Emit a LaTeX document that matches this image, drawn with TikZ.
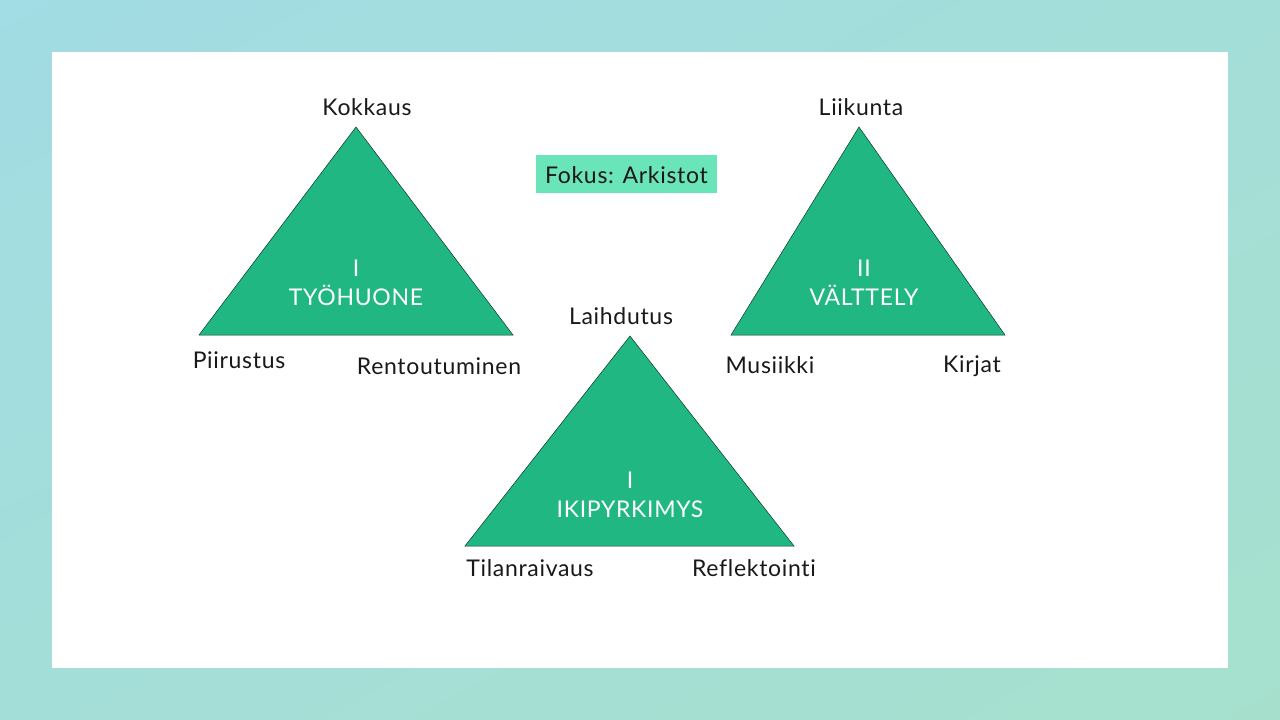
\documentclass[tikz,border=0pt]{standalone}
\usepackage{fontspec}
\setmainfont{Lato}[Ligatures=NoCommon,LetterSpace=3]
\usetikzlibrary{shadings}
\begin{document}
\begin{tikzpicture}[x=1pt,y=-1pt,
  tri/.style={fill=triGreen,draw=black!70!triGreen,line width=0.5pt},
  lbl/.style={font=\fontsize{23}{26}\selectfont,text=black!90,inner sep=0pt},
  inlbl/.style={font=\fontsize{23}{29}\selectfont,text=white,align=center,inner sep=0pt}]
\definecolor{triGreen}{RGB}{33,183,131}
\definecolor{bgA}{RGB}{162,220,228}
\definecolor{bgB}{RGB}{166,224,205}
\definecolor{bgC}{RGB}{164,222,216}
\definecolor{focusGreen}{RGB}{106,228,185}
\useasboundingbox (0,0) rectangle (1280,720);
\shade[upper left=bgA, lower right=bgB, upper right=bgC, lower left=bgC] (0,0) rectangle (1280,720);
\fill[white] (52,52) rectangle (1228,668);
% triangle 1
\coordinate (t1a) at (356,127);
\coordinate (t1b) at (199,335);
\coordinate (t1c) at (513,335);
\draw[tri] (t1a) -- (t1b) -- (t1c) -- cycle;
\node[inlbl] (t1t) at (356,283) {I\\TYÖHUONE};
\node[lbl] (kok) at (367,107) {Kokkaus};
\node[lbl] (pii) at (239,360) {Piirustus};
\node[lbl] (ren) at (439,366) {Rentoutuminen};
% triangle 2
\coordinate (t2a) at (859,127);
\coordinate (t2b) at (731,335);
\coordinate (t2c) at (1005,335);
\draw[tri] (t2a) -- (t2b) -- (t2c) -- cycle;
\node[inlbl] (t2t) at (864,283) {II\\VÄLTTELY};
\node[lbl] (lii) at (861,107) {Liikunta};
\node[lbl] (mus) at (770,365) {Musiikki};
\node[lbl] (kir) at (972,366) {Kirjat};
% triangle 3
\coordinate (t3a) at (630,336);
\coordinate (t3b) at (465,546);
\coordinate (t3c) at (794,546);
\draw[tri] (t3a) -- (t3b) -- (t3c) -- cycle;
\node[inlbl] (t3t) at (630,495) {I\\IKIPYRKIMYS};
\node[lbl] (lai) at (621,316) {Laihdutus};
\node[lbl] (til) at (530,568) {Tilanraivaus};
\node[lbl] (ref) at (754,568) {Reflektointi};
% focus box
\fill[focusGreen] (536,155) rectangle (717,193);
\node[lbl] (fok) at (626.5,175) {Fokus: Arkistot};
\end{tikzpicture}
\end{document}
